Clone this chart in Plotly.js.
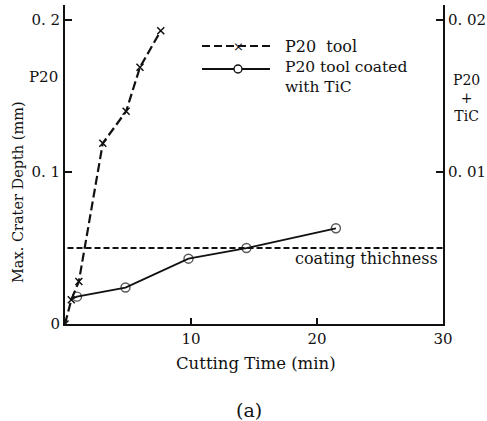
<!DOCTYPE html>
<html>
<head>
<meta charset="utf-8">
<script src="https://cdn.plot.ly/plotly-3.0.1.min.js"></script>
<style>
html,body{margin:0;padding:0;background:#fff;}
#chart{width:487px;height:421px;}
</style>
</head>
<body>
<div id="chart"></div>
<script>
// ---- data ----
const p20Time = [0, 0.5, 1.1, 3.0, 4.85, 5.95, 7.6];
const p20Depth = [0, 0.016, 0.028, 0.119, 0.140, 0.169, 0.193];

const ticTime = [0.4, 0.95, 4.8, 9.8, 14.4, 21.5];
const ticDepth = [0.016, 0.018, 0.024, 0.043, 0.050, 0.063];

const coatingTime = [0.2, 30];
const coatingDepth = [0.05, 0.05];

const leftTickVals = [0, 0.1, 0.2];
const leftTickText = ["0", "0. 1", "0. 2"];
const rightTickVals = [0.01, 0.02];
const rightTickText = ["0. 01", "0. 02"];
const xTickVals = [10, 20, 30];
const xTickText = ["10", "20", "30"];

// ---- layout geometry ----
const W = 487, H = 421;
const M = {l: 65, r: 44, t: 5, b: 97};
const PW = W - M.l - M.r, PH = H - M.t - M.b;
const px = x => (x - M.l) / PW;
const py = y => (H - M.b - y) / PH;

const FONT = "DejaVu Serif, Liberation Serif, serif";

const traces = [
  {x: p20Time, y: p20Depth, type: 'scatter', mode: 'lines+markers',
   line: {color: '#111', width: 2.2, dash: '9px,4px'},
   marker: {symbol: 'x-thin', size: 7, line: {color: '#111', width: 1.5}, color: '#111'},
   showlegend: false, hoverinfo: 'skip'},
  {x: ticTime, y: ticDepth, type: 'scatter', mode: 'lines+markers',
   line: {color: '#111', width: 1.8},
   marker: {symbol: 'circle-open', size: [0, 9, 9, 9, 9, 9], color: '#111', line: {width: 1.4, color: '#111'}},
   showlegend: false, hoverinfo: 'skip'},
  {x: coatingTime, y: coatingDepth, type: 'scatter', mode: 'lines',
   line: {color: '#111', width: 2, dash: '6px,3px'},
   showlegend: false, hoverinfo: 'skip'},
  {x: [0], y: [0], yaxis: 'y2', type: 'scatter', mode: 'markers',
   marker: {size: 0, opacity: 0}, showlegend: false, hoverinfo: 'skip'}
];

const shapes = [
  // legend samples
  {type: 'line', xref: 'paper', yref: 'paper', x0: px(202), x1: px(270), y0: py(46), y1: py(46),
   line: {color: '#111', width: 2.2, dash: '8px,4px'}},
  {type: 'line', xref: 'paper', yref: 'paper', x0: px(202), x1: px(270), y0: py(69), y1: py(69),
   line: {color: '#111', width: 1.8}},
  {type: 'circle', xref: 'paper', yref: 'paper', x0: px(234), x1: px(242), y0: py(65), y1: py(73),
   line: {color: '#111', width: 1.4}, fillcolor: '#fff'}
];

const ann = (x, y, text, opts) => Object.assign({
  xref: 'paper', yref: 'paper', x: px(x), y: py(y), text: text, showarrow: false,
  font: {family: FONT, size: 16, color: '#111'}, xanchor: 'left', yanchor: 'middle'
}, opts || {});

const annotations = [
  ann(238, 46, '×', {xanchor: 'center', font: {family: FONT, size: 13, color: '#111'}}),
  ann(283, 46, 'P20  tool'),
  ann(283, 77, 'P20 tool coated<br>with TiC', {align: 'left', font: {family: FONT, size: 15.5, color: '#111'}}),
  ann(440, 258, 'coating thichness', {xanchor: 'right'}),
  ann(60, 77, 'P20', {xanchor: 'right', font: {family: FONT, size: 15, color: '#111'}}),
  ann(466, 98, 'P20<br>+<br>TiC', {xanchor: 'center', align: 'center', font: {family: FONT, size: 14, color: '#111'}}),
  ann(18, 192, 'Max. Crater Depth (mm)', {xanchor: 'center', textangle: -90, font: {family: FONT, size: 14.5, color: '#111'}}),
  ann(256, 363, 'Cutting Time (min)', {xanchor: 'center', font: {family: FONT, size: 16.5, color: '#111'}}),
  ann(249, 410, '(a)', {xanchor: 'center', font: {family: FONT, size: 19, color: '#111'}})
];

const layout = {
  width: W, height: H,
  margin: M,
  paper_bgcolor: '#fff', plot_bgcolor: '#fff',
  font: {family: FONT, size: 14, color: '#111'},
  showlegend: false,
  xaxis: {range: [0, 30], showgrid: false, zeroline: false, showline: true,
          linecolor: '#111', linewidth: 2, ticks: 'inside', ticklen: 6, tickwidth: 1.5,
          tickcolor: '#111', tickmode: 'array', tickvals: xTickVals, ticktext: xTickText,
          tickfont: {family: FONT, size: 15}, fixedrange: true},
  yaxis: {range: [0, 0.21], showgrid: false, zeroline: false, showline: true,
          linecolor: '#111', linewidth: 2, ticks: 'inside', ticklen: 7, tickwidth: 1.5,
          tickcolor: '#111', tickmode: 'array', tickvals: leftTickVals, ticktext: leftTickText,
          tickfont: {family: FONT, size: 15}, fixedrange: true},
  yaxis2: {range: [0, 0.021], overlaying: 'y', side: 'right', showgrid: false, zeroline: false,
           showline: true, linecolor: '#111', linewidth: 2, ticks: 'inside', ticklen: 7,
           tickwidth: 1.5, tickcolor: '#111', tickmode: 'array', tickvals: rightTickVals,
           ticktext: rightTickText, tickfont: {family: FONT, size: 15}, fixedrange: true},
  shapes: shapes,
  annotations: annotations
};

Plotly.newPlot('chart', traces, layout, {staticPlot: true, displayModeBar: false});
</script>
</body>
</html>
